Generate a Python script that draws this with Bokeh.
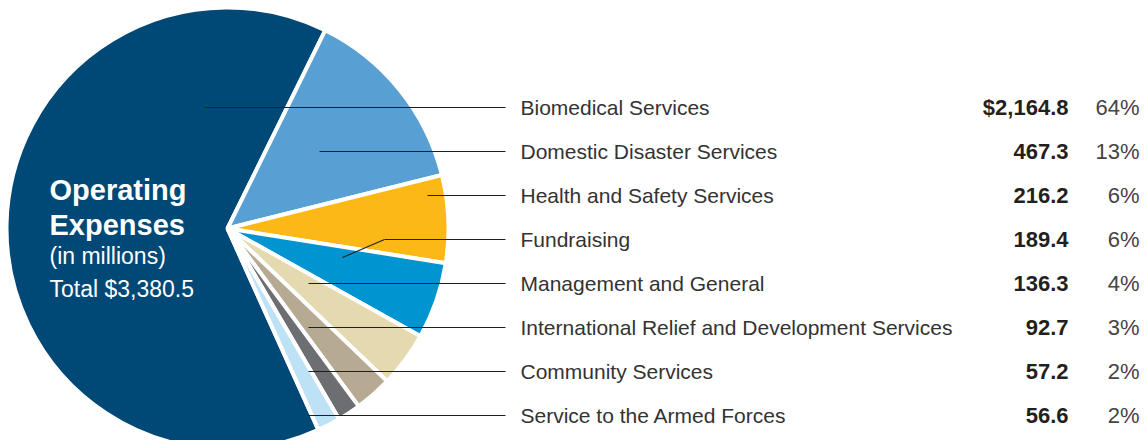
import math
from bokeh.plotting import figure
from bokeh.models import Range1d
from bokeh.core.properties import value
from bokeh.embed import file_html
from bokeh.resources import INLINE

categories = ["Biomedical Services", "Domestic Disaster Services", "Health and Safety Services",
              "Fundraising", "Management and General",
              "International Relief and Development Services", "Community Services",
              "Service to the Armed Forces"]
amounts = [2164.8, 467.3, 216.2, 189.4, 136.3, 92.7, 57.2, 56.6]
amount_labels = ["$2,164.8", "467.3", "216.2", "189.4", "136.3", "92.7", "57.2", "56.6"]
pct_labels = ["64%", "13%", "6%", "6%", "4%", "3%", "2%", "2%"]
colors = ["#004876", "#58a0d3", "#fbb817", "#0094d0", "#e5d9b0", "#b6aa93", "#6c6e71", "#bde2f6"]

W, H = 1140, 440
p = figure(width=W, height=H, output_backend="svg", toolbar_location=None,
           x_range=Range1d(0, W), y_range=Range1d(0, H), min_border=0)
p.axis.visible = False
p.grid.visible = False
p.outline_line_color = None
p.background_fill_color = "white"
p.border_fill_color = "white"

def sy(screen_y):
    return H - screen_y

# pie geometry
cx, cy, r = 227, sy(228), 221
theta0 = math.radians(-65.7)
total = sum(amounts)
angles = [theta0]
acc = 0.0
for a in amounts:
    acc += a
    angles.append(theta0 - acc / total * 2 * math.pi)
starts = [angles[i + 1] for i in range(len(amounts))]
ends = [angles[i] for i in range(len(amounts))]
p.wedge(x=[cx] * len(amounts), y=[cy] * len(amounts), radius=r,
        start_angle=starts, end_angle=ends, direction="anticlock",
        fill_color=colors, line_color="white", line_width=4)

# leader lines
row_y = [sy(107 + 44 * i) for i in range(len(categories))]
lead_x0 = [204, 319, 427, 384, 308, 308, 308, 308]
for i in range(len(categories)):
    p.line([lead_x0[i], 505], [row_y[i], row_y[i]], line_color="#231f20", line_width=1.1)
p.line([342, 384], [sy(257), row_y[3]], line_color="#231f20", line_width=1.1)

# labels
p.text(x=[520] * len(categories), y=row_y, text=categories,
       text_font=value("Liberation Sans"), text_font_size="21px",
       text_color="#333333", text_baseline="middle", text_align="left")
p.text(x=[1068] * len(categories), y=row_y, text=amount_labels,
       text_font=value("Liberation Sans"), text_font_size="22px", text_font_style="bold",
       text_color="#231f20", text_baseline="middle", text_align="right")
p.text(x=[1139] * len(categories), y=row_y, text=pct_labels,
       text_font=value("Liberation Sans"), text_font_size="22px",
       text_color="#444444", text_baseline="middle", text_align="right")

# center title
p.text(x=[49, 49], y=[sy(189), sy(224)], text=["Operating", "Expenses"],
       text_font=value("Liberation Sans"), text_font_size="29px", text_font_style="bold",
       text_color="white", text_baseline="middle", text_align="left")
p.text(x=[49, 49], y=[sy(255), sy(288)], text=["(in millions)", "Total $3,380.5"],
       text_font=value("Liberation Sans"), text_font_size="23px",
       text_color="white", text_baseline="middle", text_align="left")

open("out.html", "w").write(file_html(p, INLINE))
